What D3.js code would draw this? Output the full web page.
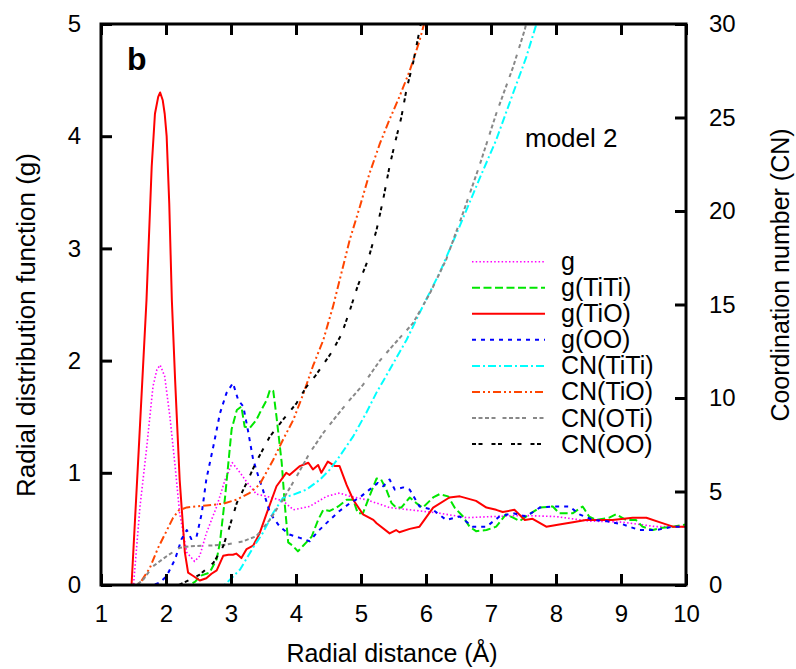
<!DOCTYPE html>
<html><head><meta charset="utf-8">
<script src="https://cdn.jsdelivr.net/npm/d3@7"></script>
<style>
html,body{margin:0;padding:0;background:#fff;}
svg text{font-family:"Liberation Sans",Arial,Helvetica,sans-serif;fill:#000;}
</style></head>
<body><svg id="chart" width="796" height="669"></svg>
<script>
// ---------------- data ----------------
const xTicks = [1,2,3,4,5,6,7,8,9,10];
const gTicks = [0,1,2,3,4,5];
const cnTicks = [0,5,10,15,20,25,30];

const seriesNames = ["g","g(TiTi)","g(TiO)","g(OO)","CN(TiTi)","CN(TiO)","CN(OTi)","CN(OO)"];
const seriesColors = ["#ff00ff","#00e600","#ff0000","#0000ff","#00ffff","#ff4500","#888888","#000000"];
const seriesAxis = ["g","g","g","g","cn","cn","cn","cn"];

const gAll = [[1.0,0],[1.50,0],[1.57,0.49],[1.60,0.70],[1.70,1.21],[1.80,1.77],[1.86,1.92],[1.91,1.96],[1.98,1.86],[2.06,1.50],[2.14,1.06],[2.21,0.64],[2.32,0.29],[2.44,0.21],[2.52,0.26],[2.62,0.46],[2.78,0.70],[2.91,0.94],[3.02,1.09],[3.14,1.00],[3.24,0.92],[3.39,0.81],[3.55,0.79],[3.80,0.75],[3.96,0.67],[4.21,0.70],[4.47,0.79],[4.67,0.82],[4.83,0.79],[5.08,0.76],[5.24,0.73],[5.44,0.69],[5.75,0.67],[6.21,0.64],[6.62,0.60],[7.03,0.61],[7.49,0.62],[8.0,0.61],[8.51,0.57],[9.03,0.56],[9.54,0.52],[10,0.52]];

const gTiTi = [[1.0,0],[2.35,0],[2.45,0.03],[2.52,0.08],[2.67,0.11],[2.78,0.23],[2.83,0.38],[2.91,0.79],[2.96,1.09],[3.01,1.39],[3.09,1.56],[3.16,1.59],[3.21,1.41],[3.29,1.40],[3.39,1.47],[3.44,1.53],[3.55,1.65],[3.60,1.74],[3.65,1.73],[3.70,1.50],[3.78,1.09],[3.83,0.70],[3.88,0.38],[3.95,0.35],[4.03,0.30],[4.11,0.35],[4.24,0.43],[4.34,0.58],[4.42,0.67],[4.52,0.66],[4.65,0.70],[4.78,0.76],[4.88,0.76],[4.95,0.64],[5.03,0.64],[5.13,0.79],[5.24,0.95],[5.31,0.94],[5.39,0.85],[5.47,0.73],[5.54,0.69],[5.62,0.69],[5.75,0.78],[5.85,0.73],[5.95,0.69],[6.11,0.78],[6.21,0.81],[6.34,0.79],[6.44,0.69],[6.57,0.61],[6.67,0.52],[6.77,0.48],[6.93,0.49],[7.08,0.52],[7.23,0.63],[7.34,0.60],[7.44,0.57],[7.59,0.63],[7.75,0.69],[7.95,0.70],[8.05,0.64],[8.26,0.64],[8.41,0.70],[8.51,0.61],[8.62,0.58],[8.82,0.60],[8.92,0.63],[9.08,0.58],[9.23,0.58],[9.33,0.52],[9.49,0.49],[9.64,0.51],[9.80,0.52],[10,0.54]];

const gTiO = [[1.0,0],[1.47,0],[1.58,1.2],[1.70,2.54],[1.78,3.73],[1.83,4.2],[1.88,4.35],[1.91,4.39],[1.95,4.32],[1.98,4.2],[2.01,4.0],[2.05,3.4],[2.09,2.54],[2.14,1.83],[2.21,0.94],[2.29,0.29],[2.34,0.11],[2.42,0.08],[2.52,0.04],[2.62,0.06],[2.70,0.10],[2.78,0.13],[2.88,0.26],[2.96,0.27],[3.03,0.27],[3.08,0.28],[3.16,0.24],[3.24,0.32],[3.34,0.35],[3.44,0.46],[3.55,0.64],[3.70,0.88],[3.85,1.0],[3.90,0.98],[4.06,1.06],[4.19,1.09],[4.26,1.03],[4.34,1.07],[4.39,1.0],[4.49,1.10],[4.60,1.06],[4.67,1.06],[4.78,0.89],[4.88,0.76],[5.03,0.63],[5.19,0.58],[5.24,0.55],[5.44,0.46],[5.54,0.49],[5.59,0.47],[5.75,0.50],[5.90,0.52],[6.11,0.69],[6.36,0.78],[6.52,0.79],[6.77,0.75],[6.93,0.69],[7.08,0.67],[7.18,0.65],[7.36,0.67],[7.52,0.58],[7.64,0.59],[7.85,0.52],[8.05,0.54],[8.26,0.56],[8.46,0.58],[8.67,0.58],[8.87,0.58],[9.18,0.60],[9.39,0.60],[9.59,0.56],[9.80,0.52],[10.0,0.52]];

const gOO = [[1.0,0],[1.80,0],[1.90,0.02],[2.01,0.08],[2.14,0.23],[2.24,0.41],[2.32,0.49],[2.39,0.41],[2.47,0.43],[2.55,0.64],[2.62,0.94],[2.73,1.24],[2.83,1.53],[2.93,1.71],[3.03,1.80],[3.11,1.65],[3.19,1.59],[3.26,1.38],[3.34,1.12],[3.42,0.97],[3.49,0.85],[3.60,0.64],[3.75,0.52],[3.90,0.45],[4.06,0.42],[4.21,0.39],[4.34,0.48],[4.52,0.58],[4.67,0.66],[4.83,0.73],[4.98,0.78],[5.13,0.85],[5.26,0.91],[5.34,0.88],[5.44,0.94],[5.52,0.85],[5.65,0.87],[5.75,0.85],[5.90,0.70],[6.11,0.67],[6.31,0.58],[6.52,0.61],[6.72,0.52],[6.93,0.52],[7.13,0.61],[7.34,0.64],[7.54,0.61],[7.75,0.69],[7.95,0.70],[8.21,0.70],[8.36,0.63],[8.57,0.58],[8.77,0.57],[9.03,0.54],[9.28,0.49],[9.54,0.49],[9.80,0.52],[10,0.52]];

const cnTiTi = [[1.0,0],[2.90,0],[2.93,0.1],[3.14,0.83],[3.34,2.0],[3.49,2.79],[3.65,3.86],[3.80,4.66],[3.96,4.83],[4.16,5.10],[4.37,5.64],[4.52,6.17],[4.67,6.88],[4.88,7.95],[5.08,9.2],[5.24,10.3],[5.34,10.9],[5.70,13.1],[5.95,14.9],[6.21,16.7],[6.52,19.2],[6.82,21.7],[7.08,23.8],[7.34,26.3],[7.54,28.2],[7.69,29.9],[7.72,30.3]];

const cnTiO = [[1.0,0],[1.50,0],[1.60,0.1],[1.75,0.9],[1.88,2.0],[2.01,2.9],[2.11,3.6],[2.20,4.0],[2.32,4.15],[2.62,4.25],[2.88,4.35],[3.09,4.57],[3.29,4.93],[3.44,5.37],[3.65,6.70],[3.80,7.77],[3.96,8.84],[4.11,10.2],[4.26,11.7],[4.42,13.1],[4.57,14.9],[4.70,16.7],[4.83,18.5],[4.98,20.2],[5.13,22.0],[5.29,23.6],[5.44,24.9],[5.59,26.1],[5.75,27.5],[5.90,29.1],[5.97,30.0],[6.05,31]];

const cnOTi = [[1.0,0],[1.55,0],[1.65,0.29],[1.80,1.0],[2.01,1.54],[2.21,1.99],[2.37,2.07],[2.68,2.11],[2.93,2.16],[3.19,2.34],[3.39,2.61],[3.60,3.5],[3.80,4.57],[4.01,5.81],[4.21,7.06],[4.42,8.13],[4.62,9.02],[4.83,9.91],[5.03,10.7],[5.29,12.0],[5.49,12.8],[5.80,14.0],[6.06,15.6],[6.31,17.4],[6.57,19.9],[6.82,22.4],[7.08,25.2],[7.34,27.7],[7.52,29.7],[7.56,30.3]];

const cnOO = [[1.0,0],[2.20,0],[2.37,0.29],[2.52,0.56],[2.73,1.19],[2.88,2.07],[2.98,3.14],[3.09,4.39],[3.24,5.46],[3.39,6.6],[3.60,7.95],[3.80,8.84],[4.01,9.73],[4.16,10.6],[4.30,11.2],[4.42,11.8],[4.54,12.4],[4.70,13.4],[4.83,14.7],[4.95,16.0],[5.11,17.4],[5.24,19.0],[5.34,20.6],[5.44,22.4],[5.52,23.6],[5.62,25.0],[5.70,26.5],[5.80,27.9],[5.88,29.3],[5.93,30.2]];

const seriesData = [gAll,gTiTi,gTiO,gOO,cnTiTi,cnTiO,cnOTi,cnOO];

// ---------------- layout / style ----------------
const svg = d3.select("#chart");
const L = 101, R = 686, T = 24, B = 585;
const dashes = ["1.5,2.2","8,3.5",null,"4,5","8,3,2,3","8,3,2,3,2,3","4,2.5,4,2.5,4,2.5,4,7","4,2.5,4,9"];
const widths = [1.6,2,2,2,2,2,2,2];

const x = d3.scaleLinear().domain([1,10]).range([L,R]);
const y = d3.scaleLinear().domain([0,5]).range([B,T]);
const y2 = d3.scaleLinear().domain([0,30]).range([B,T]);

svg.append("defs").append("clipPath").attr("id","clip")
  .append("rect").attr("x",L).attr("y",T).attr("width",R-L).attr("height",B-T);

const plot = svg.append("g").attr("clip-path","url(#clip)");
seriesData.forEach((d,i)=>{
  const ys = seriesAxis[i]==="g" ? y : y2;
  const line = d3.line().x(p=>x(p[0])).y(p=>ys(p[1]));
  plot.append("path").datum(d)
    .attr("d",line).attr("fill","none")
    .attr("stroke",seriesColors[i]).attr("stroke-width",widths[i])
    .attr("stroke-linejoin","round")
    .attr("stroke-dasharray",dashes[i]);
});

// axes
const tickFont = "24px";
const gx = svg.append("g").attr("transform",`translate(0,${B})`)
  .call(d3.axisBottom(x).tickValues(xTicks).tickSize(-11).tickPadding(20).tickFormat(d3.format("d")));
const gxt = svg.append("g").attr("transform",`translate(0,${T})`)
  .call(d3.axisTop(x).tickValues(xTicks).tickSize(-11).tickFormat(""));
const gy = svg.append("g").attr("transform",`translate(${L},0)`)
  .call(d3.axisLeft(y).tickValues(gTicks).tickSize(-11).tickPadding(20).tickFormat(d3.format("d")));
const gy2 = svg.append("g").attr("transform",`translate(${R},0)`)
  .call(d3.axisRight(y2).tickValues(cnTicks).tickSize(-11).tickPadding(23).tickFormat(d3.format("d")));
[gx,gxt,gy,gy2].forEach(g=>{
  g.select(".domain").remove();
  g.selectAll(".tick line").attr("stroke","#000").attr("stroke-width",3);
  g.selectAll(".tick text").attr("font-size",tickFont).attr("font-family",null);
});
gx.selectAll(".tick text").attr("dy","0.72em");

// frame
svg.append("rect").attr("x",L).attr("y",T).attr("width",R-L).attr("height",B-T)
  .attr("fill","none").attr("stroke","#000").attr("stroke-width",3);

// titles
svg.append("text").attr("x",392).attr("y",662).attr("text-anchor","middle")
  .attr("font-size","25px").text("Radial distance (Å)");
svg.append("text").attr("transform","translate(35,325) rotate(-90)").attr("text-anchor","middle")
  .attr("font-size","26px").text("Radial distribution function (g)");
svg.append("text").attr("transform","translate(789,275) rotate(-90)").attr("text-anchor","middle")
  .attr("font-size","25px").text("Coordination number (CN)");

svg.append("text").attr("x",127).attr("y",70).attr("font-size","32px").attr("font-weight","bold").text("b");
svg.append("text").attr("x",525).attr("y",147).attr("font-size","26px").text("model 2");

// legend
const leg = svg.append("g");
seriesNames.forEach((n,i)=>{
  const yy = 261.7 + i*26.05;
  leg.append("line").attr("x1",472).attr("x2",545).attr("y1",yy).attr("y2",yy)
    .attr("stroke",seriesColors[i]).attr("stroke-width",widths[i]).attr("stroke-dasharray",dashes[i]);
  leg.append("text").attr("x",561).attr("y",yy+8.5).attr("font-size","25px").text(n);
});
</script></body></html>
